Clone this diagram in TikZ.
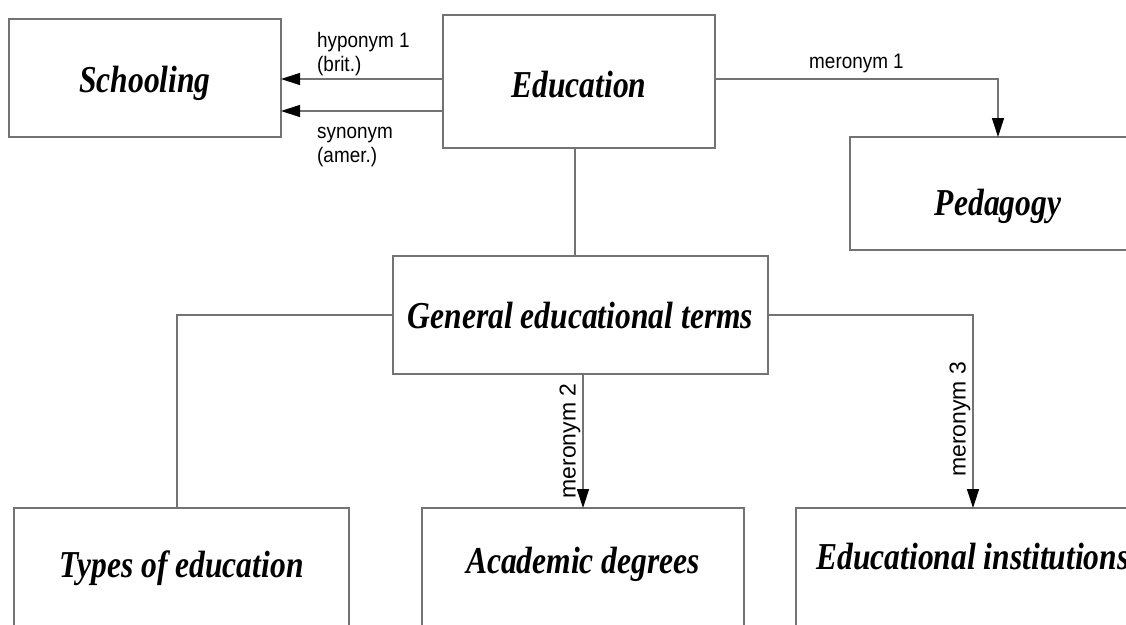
\documentclass[tikz,border=0pt]{standalone}
\usepackage{fontspec}
\setmainfont{Liberation Serif}
\newfontface\termfont[FakeStretch=0.83]{Liberation Serif Bold Italic}
\newfontface\relfont[FakeStretch=0.9]{Liberation Sans}
\newfontface\relrotfont{Liberation Sans}
\usetikzlibrary{arrows.meta}

\begin{document}
\begin{tikzpicture}[x=1pt, y=-1pt,
  term/.style={draw=black!55, line width=1.3pt, outer sep=0pt, inner sep=0pt,
    text depth=0pt, font=\fontsize{38}{40}\selectfont\termfont},
  link/.style={draw=black!55, line width=1.3pt},
  arr/.style={link, -{Triangle[length=19pt,width=12pt,color=black]}},
  rel/.style={font=\fontsize{21}{24}\selectfont\relfont, inner sep=0pt, align=left},
  relv/.style={font=\fontsize{23}{26}\selectfont\relrotfont, rotate=90, anchor=south, inner sep=2pt}]
\useasboundingbox (0,0) rectangle (1126,624);
\clip (0,0) rectangle (1126,624);

% Terms
\node[term, minimum width=272pt, minimum height=118pt, text height=28pt] (schooling) at (145,78) {Schooling};
\node[term, minimum width=272pt, minimum height=133pt, text height=31pt] (education) at (579,81.5) {Education};
\node[term, minimum width=296pt, minimum height=113pt, text height=43pt] (pedagogy) at (998,193.5) {Pedagogy};
\node[term, minimum width=375pt, minimum height=118pt, text height=26pt] (general) at (580.5,315) {General educational terms};
\node[term, minimum width=335pt, minimum height=120pt, text height=18pt] (types) at (181.5,568) {Types of education};
\node[term, minimum width=322pt, minimum height=120pt, text height=10pt] (academic) at (583,568) {Academic degrees};
\node[term, minimum width=354pt, minimum height=120pt, text height=2pt] (institutions) at (973,568) {Educational institutions};

% Schooling relations
\coordinate (hyp) at ([yshift=2.5pt]education.west);
\coordinate (syn) at ([yshift=-29.5pt]education.west);
\draw[arr] (hyp) -- (hyp -| schooling.east);
\draw[arr] (syn) -- (syn -| schooling.east);
\node[rel, anchor=north west] (hyplabel) at (317,32) {hyponym 1\\(brit.)};
\node[rel, anchor=north west] (synlabel) at (317,127) {synonym\\(amer.)};

% Meronyms
\draw[arr] (hyp -| education.east) -| (pedagogy.north)
  node[rel, pos=0.25, above=11pt, anchor=base] (mero1) {meronym 1};
\draw[link] ([xshift=-4pt]education.south) -- ([xshift=-4pt]education.south |- general.north);
\draw[arr] (general.south -| academic.north) -- (academic.north)
  node[relv, midway] (mero2) {meronym 2};
\draw[arr] (general.east) -| (institutions.north)
  node[relv, pos=0.77] (mero3) {meronym 3};
\draw[link] (general.west) -| ([xshift=-4.5pt]types.north);

\end{tikzpicture}
\end{document}
